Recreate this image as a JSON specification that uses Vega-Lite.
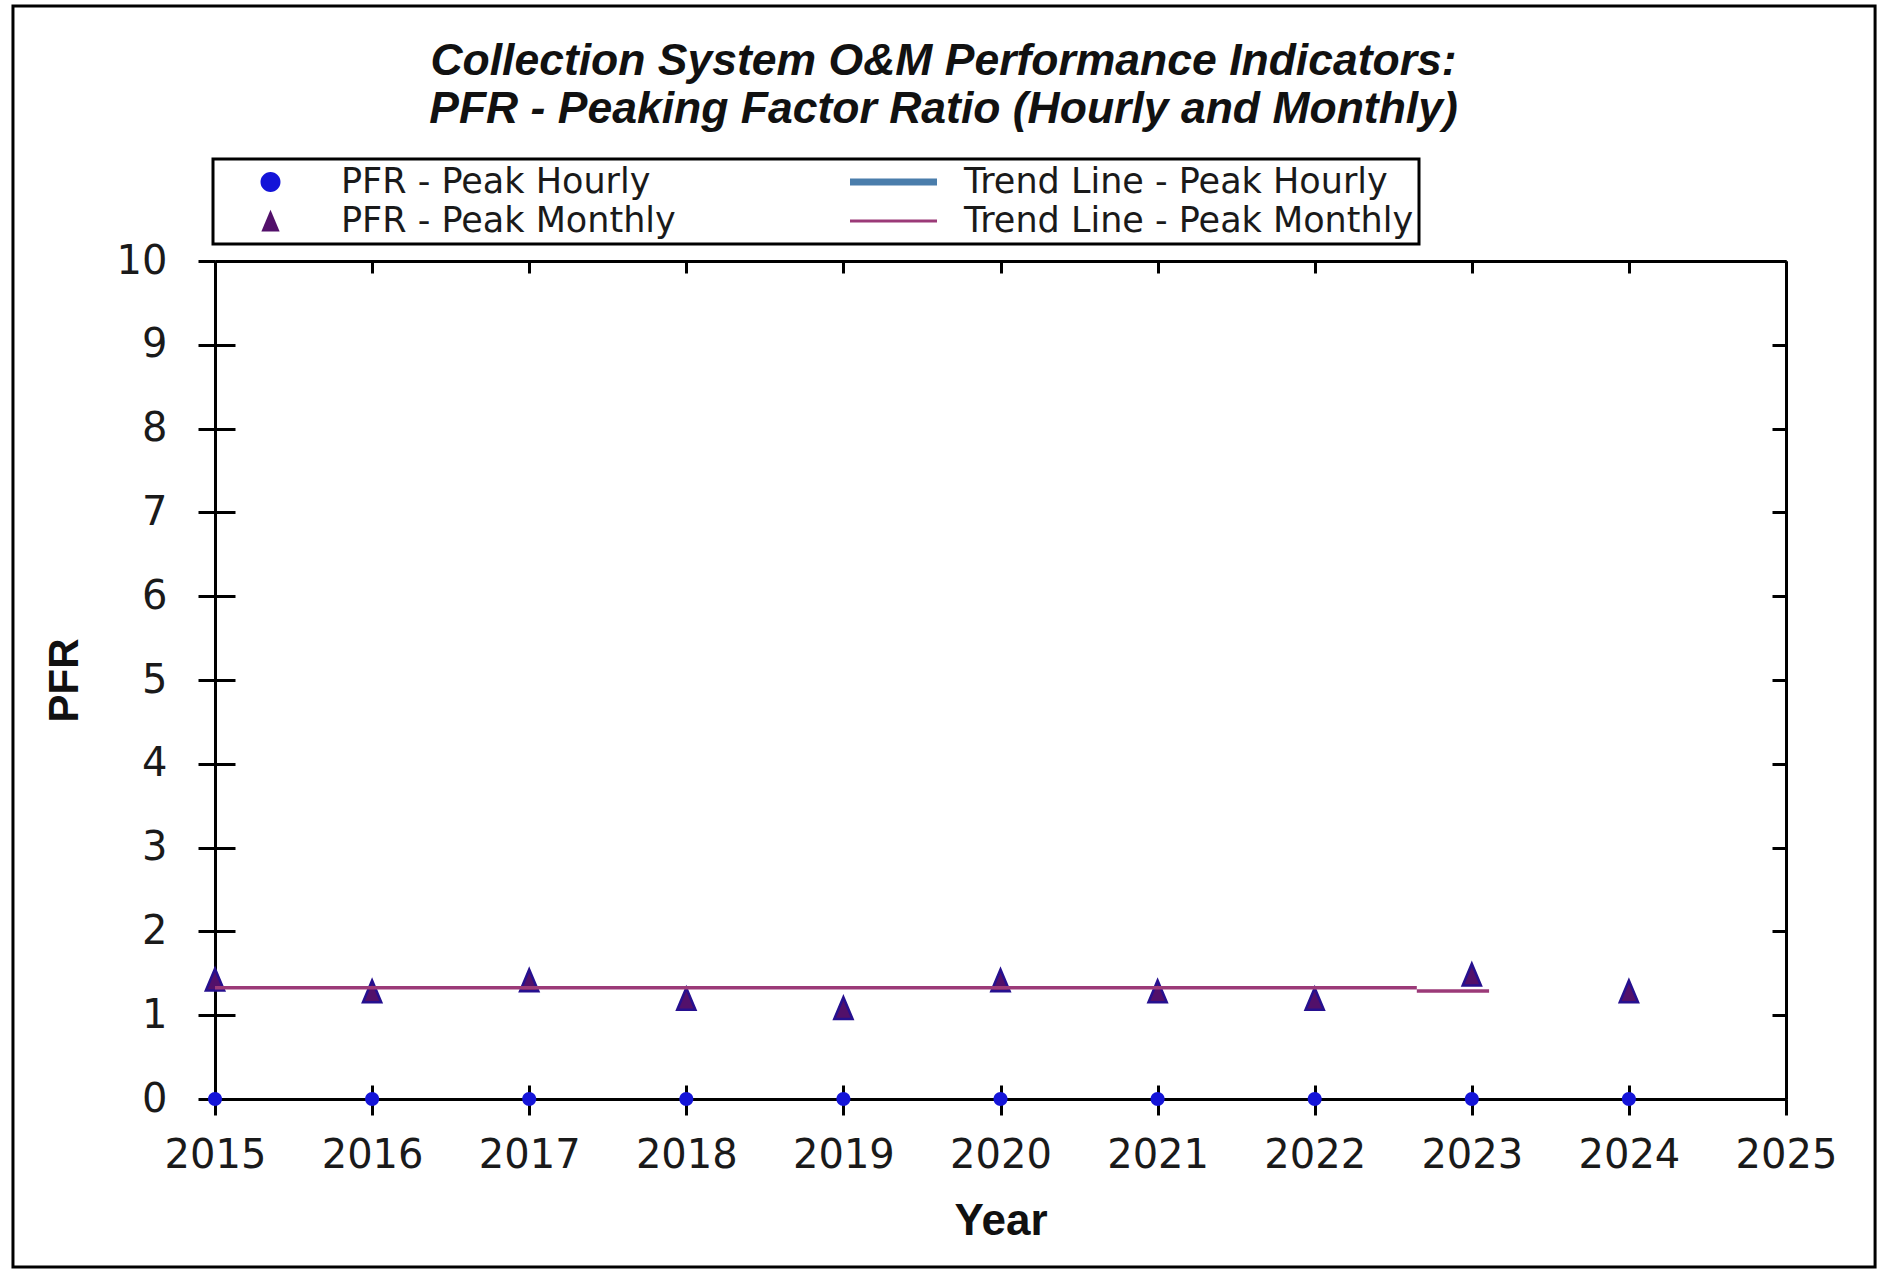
{
  "$schema": "https://vega.github.io/schema/vega-lite/v6.json",
  "width": 1571,
  "height": 838,
  "autosize": {"type": "none"},
  "padding": {"left": 215, "top": 261, "right": 93, "bottom": 171},
  "background": "white",
  "config": {
    "view": {"stroke": null},
    "legend": {"strokeWidth": 3},
    "axis": {
      "labelFont": "DejaVu Sans",
      "labelFontSize": 40,
      "labelColor": "#1a1a1a",
      "titleFont": "Liberation Sans",
      "titleFontSize": 44,
      "titleFontWeight": "bold",
      "titleColor": "#111111",
      "domainColor": "black",
      "domainWidth": 3,
      "tickColor": "black",
      "tickWidth": 3,
      "grid": false,
      "labelFlush": false,
      "labelOverlap": false,
      "zindex": 1
    }
  },
  "title": {
    "text": ["Collection System O&M Performance Indicators:", "PFR - Peaking Factor Ratio (Hourly and Monthly)"],
    "font": "Liberation Sans",
    "fontSize": 44.5,
    "fontStyle": "italic",
    "fontWeight": "bold",
    "color": "#111111",
    "lineHeight": 48,
    "anchor": "middle",
    "frame": "group",
    "dx": -57,
    "offset": -128
  },
  "datasets": {
    "pfr": [
      {"year": 2015, "series": "PFR - Peak Hourly", "pfr": 0},
      {"year": 2016, "series": "PFR - Peak Hourly", "pfr": 0},
      {"year": 2017, "series": "PFR - Peak Hourly", "pfr": 0},
      {"year": 2018, "series": "PFR - Peak Hourly", "pfr": 0},
      {"year": 2019, "series": "PFR - Peak Hourly", "pfr": 0},
      {"year": 2020, "series": "PFR - Peak Hourly", "pfr": 0},
      {"year": 2021, "series": "PFR - Peak Hourly", "pfr": 0},
      {"year": 2022, "series": "PFR - Peak Hourly", "pfr": 0},
      {"year": 2023, "series": "PFR - Peak Hourly", "pfr": 0},
      {"year": 2024, "series": "PFR - Peak Hourly", "pfr": 0},
      {"year": 2015, "series": "PFR - Peak Monthly", "pfr": 1.42},
      {"year": 2016, "series": "PFR - Peak Monthly", "pfr": 1.28},
      {"year": 2017, "series": "PFR - Peak Monthly", "pfr": 1.41},
      {"year": 2018, "series": "PFR - Peak Monthly", "pfr": 1.19},
      {"year": 2019, "series": "PFR - Peak Monthly", "pfr": 1.08},
      {"year": 2020, "series": "PFR - Peak Monthly", "pfr": 1.41},
      {"year": 2021, "series": "PFR - Peak Monthly", "pfr": 1.28},
      {"year": 2022, "series": "PFR - Peak Monthly", "pfr": 1.19},
      {"year": 2023, "series": "PFR - Peak Monthly", "pfr": 1.48},
      {"year": 2024, "series": "PFR - Peak Monthly", "pfr": 1.28}
    ],
    "trend": [
      {"year": 2015, "pfr": 1.327, "series": "Trend Line - Peak Monthly", "segment": 1},
      {"year": 2022.65, "pfr": 1.327, "series": "Trend Line - Peak Monthly", "segment": 1},
      {"year": 2022.65, "pfr": 1.29, "series": "Trend Line - Peak Monthly", "segment": 2},
      {"year": 2023.11, "pfr": 1.29, "series": "Trend Line - Peak Monthly", "segment": 2}
    ]
  },
  "layer": [
    {
      "data": {"name": "pfr"},
      "transform": [{"filter": "datum.series === 'PFR - Peak Hourly'"}],
      "mark": {"type": "point", "filled": true, "size": 3700, "opacity": 1},
      "encoding": {
        "x": {
          "field": "year", "type": "quantitative",
          "scale": {"domain": [2015, 2025], "nice": false, "zero": false},
          "axis": {"orient": "bottom", "values": [2015, 2016, 2017, 2018, 2019, 2020, 2021, 2022, 2023, 2024, 2025], "format": "d", "tickSize": 16, "labelPadding": 20, "title": "Year", "titlePadding": 24}
        },
        "y": {
          "field": "pfr", "type": "quantitative",
          "scale": {"domain": [0, 10], "nice": false, "zero": false},
          "axis": {"orient": "left", "values": [0, 1, 2, 3, 4, 5, 6, 7, 8, 9, 10], "tickSize": 17, "labelPadding": 31, "title": "PFR", "titlePadding": 30, "titleFontSize": 42}
        },
        "color": {
          "field": "series", "type": "nominal",
          "scale": {
            "domain": ["PFR - Peak Hourly", "PFR - Peak Monthly", "Trend Line - Peak Hourly", "Trend Line - Peak Monthly"],
            "range": ["#1414d8", "#52106a", "#4a7dab", "#9b3a78"]
          },
          "legend": {
            "orient": "none",
            "legendX": -2,
            "legendY": -102,
            "columns": 2,
            "columnPadding": 165,
            "rowPadding": 3,
            "padding": 5,
            "title": null,
            "strokeColor": "black",
            "symbolSize": 7569,
            "symbolOffset": 9,
            "symbolStrokeWidth": 0,
            "symbolOpacity": 1,
            "labelOffset": 27,
            "labelLimit": 1000,
            "labelFont": "DejaVu Sans",
            "labelFontSize": 35,
            "labelColor": "#1a1a1a",
            "clipHeight": 36
          }
        },
        "shape": {
          "field": "series", "type": "nominal",
          "scale": {
            "domain": ["PFR - Peak Hourly", "PFR - Peak Monthly", "Trend Line - Peak Hourly", "Trend Line - Peak Monthly"],
            "range": [
              "M-0.23,0A0.23,0.23,0,1,1,0.23,0A0.23,0.23,0,1,1,-0.23,0Z",
              "M0,-0.26L0.21,0.24L-0.21,0.24Z",
              "M-1,-0.08L1,-0.08L1,0.08L-1,0.08Z",
              "M-1,-0.035L1,-0.035L1,0.035L-1,0.035Z"
            ]
          }
        }
      }
    },
    {
      "data": {"name": "pfr"},
      "transform": [{"filter": "datum.series === 'PFR - Peak Monthly'"}],
      "mark": {"type": "point", "filled": true, "size": 7569, "stroke": "#26108f", "strokeWidth": 2.5, "opacity": 1},
      "encoding": {
        "x": {
          "field": "year", "type": "quantitative",
          "scale": {"domain": [2015, 2025], "nice": false, "zero": false},
          "axis": {"orient": "bottom", "values": [2015, 2016, 2017, 2018, 2019, 2020, 2021, 2022, 2023, 2024, 2025], "tickSize": -14, "labels": false, "domain": false, "title": null}
        },
        "y": {
          "field": "pfr", "type": "quantitative",
          "scale": {"domain": [0, 10], "nice": false, "zero": false},
          "axis": {"orient": "left", "values": [0, 1, 2, 3, 4, 5, 6, 7, 8, 9, 10], "tickSize": -20, "labels": false, "domain": false, "title": null}
        },
        "color": {"field": "series", "type": "nominal"},
        "shape": {"field": "series", "type": "nominal"}
      }
    },
    {
      "data": {"name": "trend"},
      "mark": {"type": "line", "strokeWidth": 3.5},
      "encoding": {
        "x": {
          "field": "year", "type": "quantitative",
          "scale": {"domain": [2015, 2025], "nice": false, "zero": false},
          "axis": {"orient": "top", "values": [2015, 2016, 2017, 2018, 2019, 2020, 2021, 2022, 2023, 2024, 2025], "tickSize": -12, "labels": false, "domain": true, "title": null}
        },
        "y": {
          "field": "pfr", "type": "quantitative",
          "scale": {"domain": [0, 10], "nice": false, "zero": false},
          "axis": {"orient": "right", "values": [0, 1, 2, 3, 4, 5, 6, 7, 8, 9, 10], "tickSize": -14, "labels": false, "domain": true, "title": null}
        },
        "detail": {"field": "segment", "type": "nominal"},
        "color": {"field": "series", "type": "nominal"}
      }
    },
    {
      "data": {"values": [{}]},
      "mark": {"type": "rect", "filled": false, "stroke": "black", "strokeWidth": 3, "clip": false},
      "encoding": {
        "x": {"datum": 2013.714, "type": "quantitative", "scale": {"domain": [2015, 2025], "nice": false, "zero": false}, "axis": null},
        "x2": {"datum": 2025.567},
        "y": {"datum": 13.043, "type": "quantitative", "scale": {"domain": [0, 10], "nice": false, "zero": false}, "axis": null},
        "y2": {"datum": -2.005}
      }
    }
  ],
  "resolve": {"axis": {"x": "independent", "y": "independent"}}
}
